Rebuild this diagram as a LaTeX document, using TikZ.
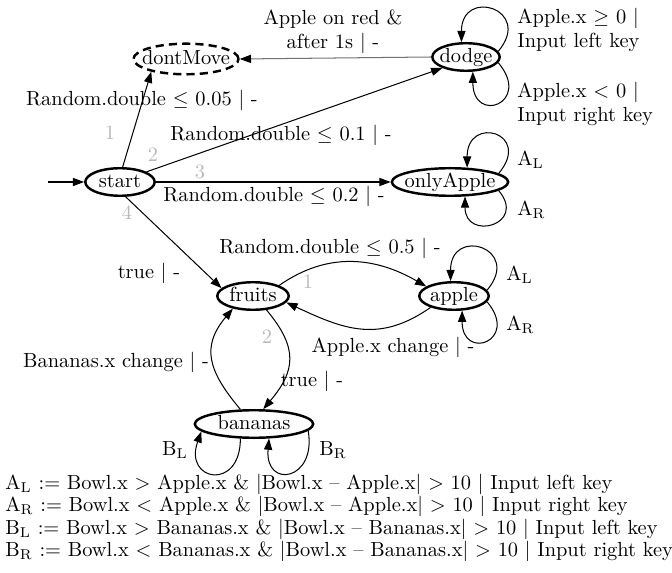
\documentclass[tikz,border=0pt]{standalone}
\usepackage{amsmath}
\usepackage{amssymb}
\usepackage{tikz}
\usetikzlibrary{shapes.geometric, arrows.meta}

\newcommand{\stname}[1]{\makebox[0pt]{#1}}

\begin{document}
\begin{tikzpicture}[x=0.49pt, y=0.49pt, font=\normalsize]
	\tikzstyle{state} = [ellipse, draw=black, line width=1.2pt, inner sep=0pt, minimum height=13.5pt, text height=7pt, text depth=2pt]
	
	\tikzstyle{arrow} = [-{Triangle[length=5.5pt, width=4pt]}, line width=0.5pt]
	\tikzstyle{greyarrow} = [-{Triangle[length=5.5pt, width=4pt, color=black]}, line width=0.5pt, draw=black!55]
	
	\tikzstyle{guard} = [inner sep=0pt]
	\tikzstyle{prio} = [inner sep=0pt, text=black!28]
	
	\useasboundingbox (0,0) rectangle (672,-573);
	
	% States
	\node (start) [state, minimum width=34pt] at (120,-182) {\stname{start}};
	\node (dontMove) [state, dash pattern=on 4pt off 2.5pt, minimum width=51.5pt, minimum height=15pt] at (186,-59) {\stname{dontMove}};
	\node (dodge) [state, minimum width=33pt] at (466,-57) {\stname{dodge}};
	\node (onlyApple) [state, minimum width=57pt] at (450,-182) {\stname{onlyApple}};
	\node (fruits) [state, minimum width=35pt] at (253,-296) {\stname{fruits}};
	\node (apple) [state, minimum width=34pt] at (454,-296) {\stname{apple}};
	\node (bananas) [state, minimum width=58pt] at (254,-424) {\stname{bananas}};
	
	% Transitions
	\coordinate (init) at (48,-182);
	\draw [arrow] (init) -- (start.west);
	\draw [arrow] (start.80) -- (dontMove.200);
	\draw [arrow] (start.21) -- (dodge.205);
	\draw [arrow] (start.east) -- (onlyApple.west);
	\draw [arrow] (start.291) -- (fruits.166);
	\draw [greyarrow] (dodge.west) -- (dontMove.east);
	\draw [arrow] (fruits.22) to [out=35, in=150, distance=29pt] (apple.161);
	\draw [arrow] (apple.206) to [out=215, in=-25, distance=31pt] (fruits.349);
	\draw [arrow] (fruits.-46) to [out=-50, in=50, distance=24.5pt] (bananas.58);
	\draw [arrow] (bananas.133) to [out=130, in=230, distance=24.5pt] (fruits.212);
	
	% Self loops
	\draw [arrow] (dodge.10) to [out=50, in=90, distance=27pt] (dodge.107);
	\draw [arrow] (dodge.-10) to [out=-50, in=-90, distance=26pt] (dodge.-65);
	\draw [arrow] (onlyApple.10) to [out=50, in=90, distance=26pt] (onlyApple.40);
	\draw [arrow] (onlyApple.-10) to [out=-50, in=-90, distance=22pt] (onlyApple.-44);
	\draw [arrow] (apple.10) to [out=50, in=90, distance=27pt] (apple.103);
	\draw [arrow] (apple.-10) to [out=-50, in=-90, distance=25pt] (apple.-61);
	\draw [arrow] (bananas.227) to [out=-90, in=-110, distance=26pt] (bananas.188);
	\draw [arrow] (bananas.-7) to [out=-80, in=-95, distance=25pt] (bananas.-44);
	
	% Guards
	\node (g1) [guard] at (142,-100) {Random.double $\leq$ 0.05 $|$ -};
	\node (g2) [guard] at (281,-135) {Random.double $\leq$ 0.1 $|$ -};
	\node (g3) [guard] at (274,-196) {Random.double $\leq$ 0.2 $|$ -};
	\node (g4) [guard] at (149,-273) {true $|$ -};
	\node (g5) [guard, align=center] at (333,-32) {Apple on red \&\\after 1s $|$ -};
	\node (g6) [guard] at (330,-248) {Random.double $\leq$ 0.5 $|$ -};
	\node (g7) [guard] at (393,-347) {Apple.x change $|$ -};
	\node (g8) [guard] at (116,-362) {Bananas.x change $|$ -};
	\node (g9) [guard] at (312,-381) {true $|$ -};
	
	% Loop labels
	\node (l1) [guard, anchor=west, align=left] at (517,-30) {Apple.x $\geq$ 0 $|$\\Input left key};
	\node (l2) [guard, anchor=west, align=left] at (517,-104) {Apple.x $<$ 0 $|$\\Input right key};
	\node (l3) [guard, anchor=west] at (517,-160) {A$_\mathrm{L}$};
	\node (l4) [guard, anchor=west] at (517,-210) {A$_\mathrm{R}$};
	\node (l5) [guard, anchor=west] at (506,-275) {A$_\mathrm{L}$};
	\node (l6) [guard, anchor=west] at (506,-325) {A$_\mathrm{R}$};
	\node (l7) [guard] at (175,-450) {B$_\mathrm{L}$};
	\node (l8) [guard] at (333,-450) {B$_\mathrm{R}$};
	
	% Priorities
	\node (p1) [prio] at (110,-133) {1};
	\node (p2) [prio] at (153,-155) {2};
	\node (p3) [prio] at (200,-172) {3};
	\node (p4) [prio] at (127,-213) {4};
	\node (p5) [prio] at (308,-282) {1};
	\node (p6) [prio] at (267,-337) {2};
	
	% Legend
	\node (legend) [guard, anchor=west, align=left, font=\fontsize{10pt}{11pt}\selectfont] at (5,-518) {A$_\mathrm{L}$ := Bowl.x $>$ Apple.x \& $|$Bowl.x -- Apple.x$|$ $>$ 10 $|$ Input left key\\
		A$_\mathrm{R}$ := Bowl.x $<$ Apple.x \& $|$Bowl.x -- Apple.x$|$ $>$ 10 $|$ Input right key\\
		B$_\mathrm{L}$ := Bowl.x $>$ Bananas.x \& $|$Bowl.x -- Bananas.x$|$ $>$ 10 $|$ Input left key\\
		B$_\mathrm{R}$ := Bowl.x $<$ Bananas.x \& $|$Bowl.x -- Bananas.x$|$ $>$ 10 $|$ Input right key};
\end{tikzpicture}
\end{document}
